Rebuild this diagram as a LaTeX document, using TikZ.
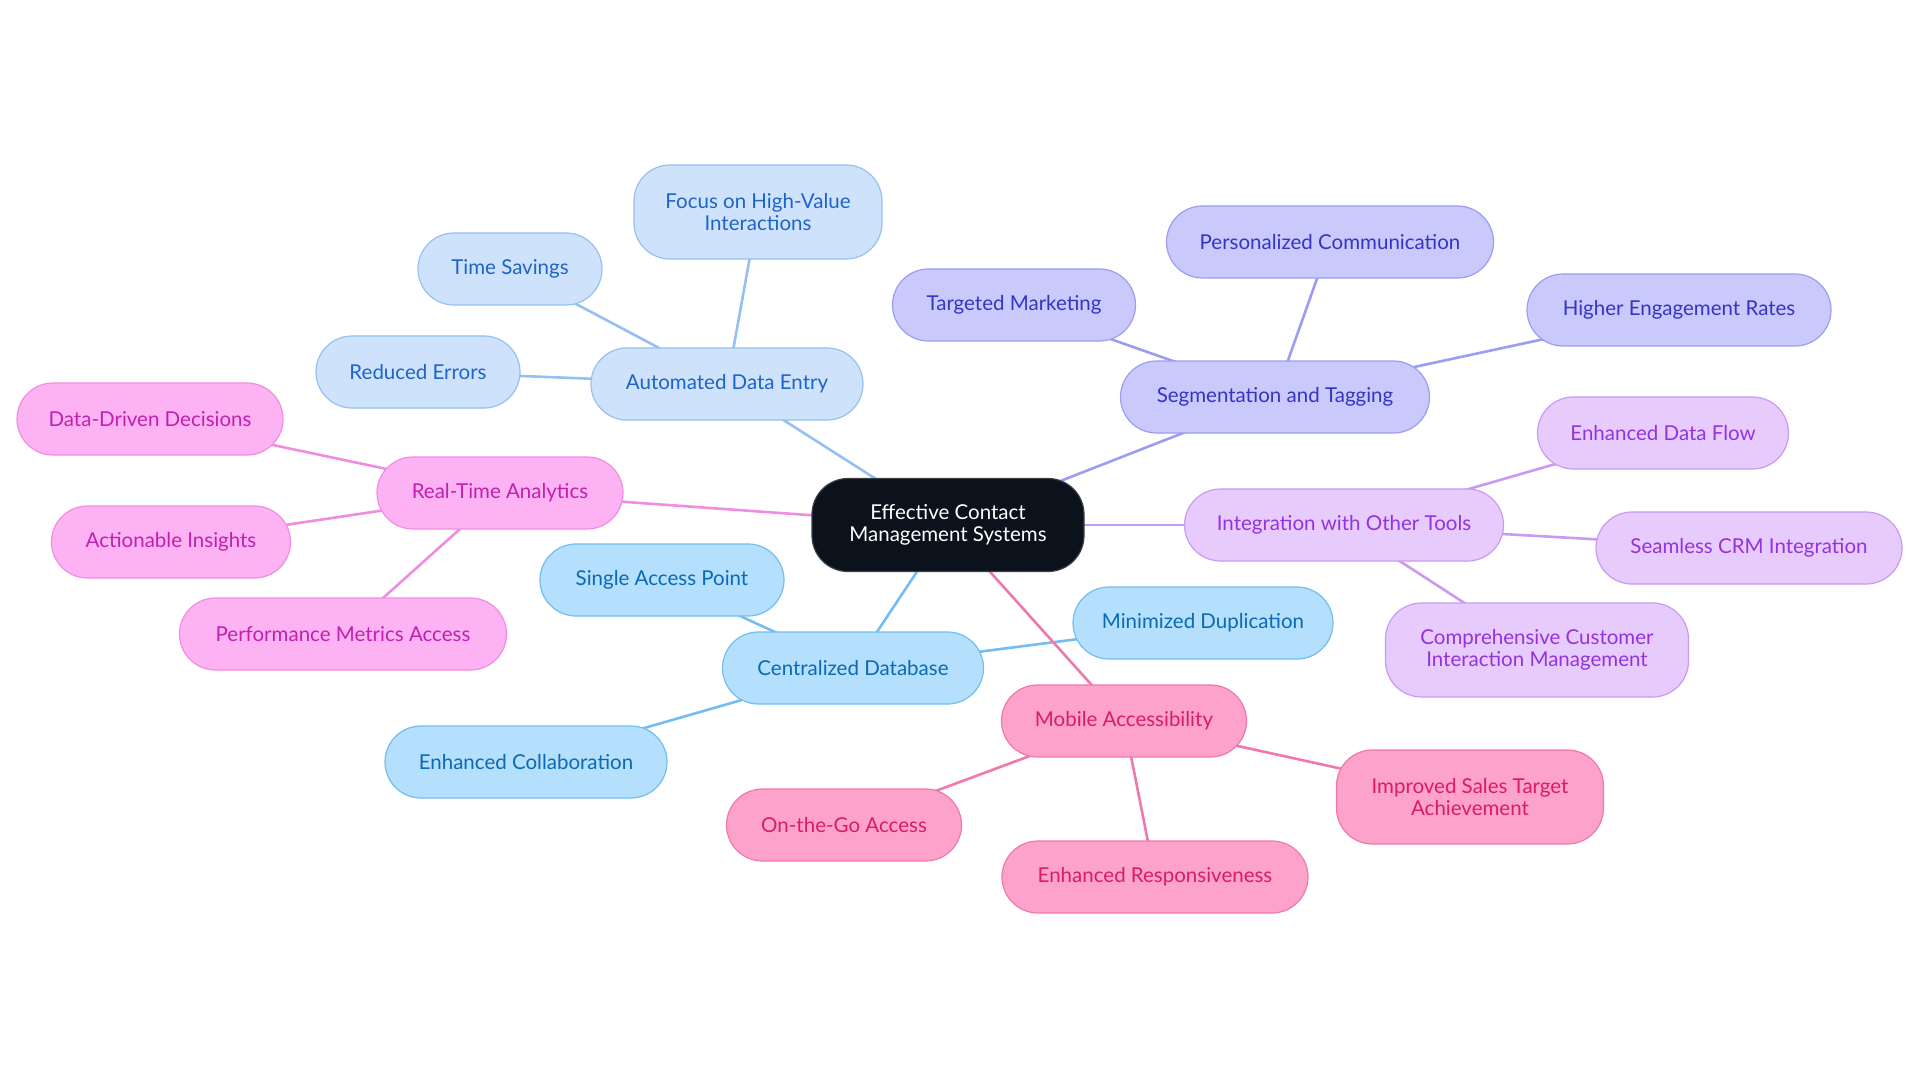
\documentclass[tikz,border=0pt]{standalone}
\usepackage{fontspec}
\setmainfont{Lato}
\usetikzlibrary{backgrounds}
\definecolor{cfill}{HTML}{0C121B}
\definecolor{cdraw}{HTML}{3A4048}
\definecolor{afill}{HTML}{CEE3FB}
\definecolor{adraw}{HTML}{94C1F1}
\definecolor{atext}{HTML}{1E64C8}
\definecolor{bfill}{HTML}{B4DFFD}
\definecolor{bdraw}{HTML}{72BEF2}
\definecolor{btext}{HTML}{0B6AB6}
\definecolor{sfill}{HTML}{C9C9FC}
\definecolor{sdraw}{HTML}{9B9DF3}
\definecolor{stext}{HTML}{3535C4}
\definecolor{ifill}{HTML}{E7CBFC}
\definecolor{idraw}{HTML}{C99AF1}
\definecolor{itext}{HTML}{9333E0}
\definecolor{rfill}{HTML}{FDB3F3}
\definecolor{rdraw}{HTML}{F18DE1}
\definecolor{rtext}{HTML}{C21FB0}
\definecolor{mfill}{HTML}{FCA2CB}
\definecolor{mdraw}{HTML}{EF78AE}
\definecolor{mtext}{HTML}{DA1B6C}
\begin{document}
\begin{tikzpicture}[x=1pt,y=-1pt,
  base/.style={rounded corners=36pt, align=center, font=\fontsize{20.5}{22}\selectfont, line width=1.2pt, minimum height=72pt, inner sep=0pt},
  w/.style={minimum width=#1},
  tall/.style={minimum height=94pt},
  cnode/.style={base, fill=cfill, draw=cdraw, text=white, minimum height=93pt},
  anode/.style={base, fill=afill, draw=adraw, text=atext},
  bnode/.style={base, fill=bfill, draw=bdraw, text=btext},
  snode/.style={base, fill=sfill, draw=sdraw, text=stext},
  inode/.style={base, fill=ifill, draw=idraw, text=itext},
  rnode/.style={base, fill=rfill, draw=rdraw, text=rtext},
  mnode/.style={base, fill=mfill, draw=mdraw, text=mtext},
  edge/.style={line width=2.6pt}]
\useasboundingbox (0,0) rectangle (1920,1083);

\node[cnode, w=272] (c) at (948,525) {Effective Contact\\Management Systems};

\node[anode, w=272] (ade) at (727,384) {Automated Data Entry};
\node[anode, w=248, tall] (fhv) at (758,212) {Focus on High-Value\\Interactions};
\node[anode, w=184] (ts) at (510,269) {Time Savings};
\node[anode, w=204] (re) at (418,372) {Reduced Errors};

\node[rnode, w=246] (rta) at (500,493) {Real-Time Analytics};
\node[rnode, w=266] (ddd) at (150,419) {Data-Driven Decisions};
\node[rnode, w=239] (ai) at (171,542) {Actionable Insights};
\node[rnode, w=327] (pma) at (343,634) {Performance Metrics Access};

\node[bnode, w=261] (cd) at (853,668) {Centralized Database};
\node[bnode, w=244] (sap) at (662,580) {Single Access Point};
\node[bnode, w=282] (ec) at (526,762) {Enhanced Collaboration};
\node[bnode, w=260] (md) at (1203,623) {Minimized Duplication};

\node[mnode, w=245] (ma) at (1124,721) {Mobile Accessibility};
\node[mnode, w=235] (otg) at (844,825) {On-the-Go Access};
\node[mnode, w=306] (er) at (1155,877) {Enhanced Responsiveness};
\node[mnode, w=267, tall] (ist) at (1470,797) {Improved Sales Target\\Achievement};

\node[snode, w=309] (st) at (1275,397) {Segmentation and Tagging};
\node[snode, w=243] (tm) at (1014,305) {Targeted Marketing};
\node[snode, w=327] (pc) at (1330,242) {Personalized Communication};
\node[snode, w=304] (her) at (1679,310) {Higher Engagement Rates};

\node[inode, w=319] (iot) at (1344,525) {Integration with Other Tools};
\node[inode, w=251] (edf) at (1663,433) {Enhanced Data Flow};
\node[inode, w=306] (scrm) at (1749,548) {Seamless CRM Integration};
\node[inode, w=303, tall] (cci) at (1537,650) {Comprehensive Customer\\Interaction Management};

\begin{pgfonlayer}{background}
\fill[white] (0,0) rectangle (1920,1083);
\draw[edge, adraw] (c.center) -- (ade.center);
\draw[edge, adraw] (ade.center) -- (fhv.center);
\draw[edge, adraw] (ade.center) -- (ts.center);
\draw[edge, adraw] (ade.center) -- (re.center);
\draw[edge, rdraw] (c.center) -- (rta.center);
\draw[edge, rdraw] (rta.center) -- (ddd.center);
\draw[edge, rdraw] (rta.center) -- (ai.center);
\draw[edge, rdraw] (rta.center) -- (pma.center);
\draw[edge, bdraw] (c.center) -- (cd.center);
\draw[edge, bdraw] (cd.center) -- (sap.center);
\draw[edge, bdraw] (cd.center) -- (ec.center);
\draw[edge, bdraw] (cd.center) -- (md.center);
\draw[edge, mdraw] (c.center) -- (ma.center);
\draw[edge, mdraw] (ma.center) -- (otg.center);
\draw[edge, mdraw] (ma.center) -- (er.center);
\draw[edge, mdraw] (ma.center) -- (ist.center);
\draw[edge, sdraw] (c.center) -- (st.center);
\draw[edge, sdraw] (st.center) -- (tm.center);
\draw[edge, sdraw] (st.center) -- (pc.center);
\draw[edge, sdraw] (st.center) -- (her.center);
\draw[edge, idraw] (c.center) -- (iot.center);
\draw[edge, idraw] (iot.center) -- (edf.center);
\draw[edge, idraw] (iot.center) -- (scrm.center);
\draw[edge, idraw] (iot.center) -- (cci.center);
\end{pgfonlayer}
\end{tikzpicture}
\end{document}
